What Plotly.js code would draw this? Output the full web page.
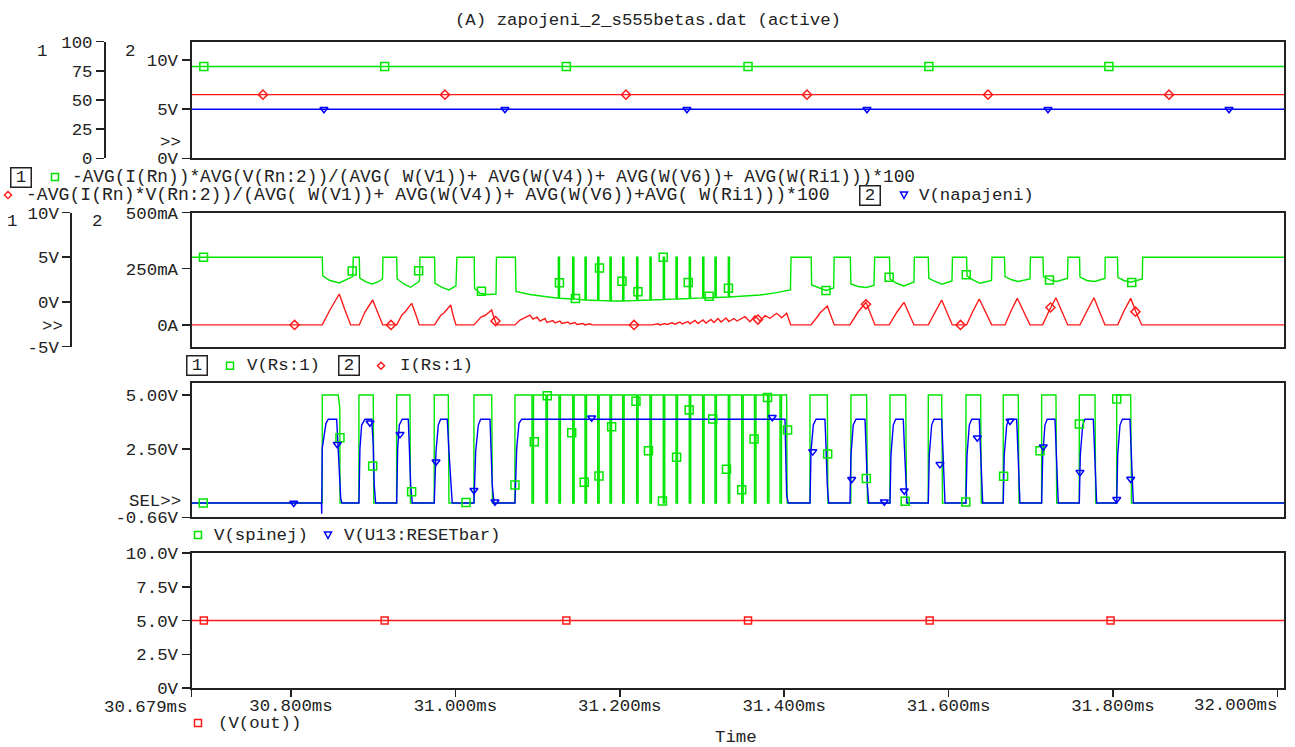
<!DOCTYPE html>
<html><head><meta charset="utf-8">
<script src="https://cdn.plot.ly/plotly-3.0.1.min.js"></script>
<style>html,body{margin:0;padding:0;background:#fff}#plot{width:1295px;height:747px}</style>
</head><body><div id="plot"></div>
<script>
// ---------------- DATA ----------------
const timeTicks = [30.679, 30.8, 31.0, 31.2, 31.4, 31.6, 31.8, 32.0];
const timeTickLabels = ['30.679ms','30.800ms','31.000ms','31.200ms','31.400ms','31.600ms','31.800ms','32.000ms'];
const timeRange = [30.679, 32.008];

// Panel 1 (averages)
const avgTime = [30.679, 32.008];
const effA = [78.7, 78.7];
const effB = [54.6, 54.6];
const napajeni = [5, 5];
const effAMarkT = [30.694, 30.914, 31.135, 31.356, 31.576, 31.795];
const effAMarkV = [78.7, 78.7, 78.7, 78.7, 78.7, 78.7];
const effBMarkT = [30.7659, 30.9873, 31.2075, 31.4277, 31.6479, 31.8681];
const effBMarkV = [54.6, 54.6, 54.6, 54.6, 54.6, 54.6];
const napMarkT = [30.8401, 31.0603, 31.2817, 31.5007, 31.7209, 31.9411];
const napMarkV = [5, 5, 5, 5, 5, 5];
const p1Axis1Ticks = [0, 25, 50, 75, 100];
const p1Axis1Labels = ['0', '25', '50', '75', '100'];
const p1Axis2Ticks = [0, 5, 10];
const p1Axis2Labels = ['0V', '5V', '10V'];

// Panel 2: V(Rs:1) [V] and I(Rs:1) [mA]
const vRsT = [
30.679, 30.8381, 30.8387, 30.8474, 30.8588, 30.8669, 30.8751, 30.8758,
30.8831, 30.8837, 30.8912, 30.8985, 30.9058, 30.9114, 30.9119,
30.9286, 30.9292, 30.9375, 30.9454, 30.9533, 30.9563, 30.9569,
30.9747, 30.9752, 30.9837, 30.9922, 31.0007, 31.0019,
31.0229, 31.0234, 31.0299, 31.0397, 31.0494, 31.0500,
31.0730, 31.0737, 31.0907, 31.1111, 31.1224,
31.1252, 31.1252, 31.1267, 31.1267,
31.1427, 31.1427, 31.1442, 31.1442,
31.1577, 31.1577, 31.1592, 31.1592,
31.1731, 31.1731, 31.1746, 31.1746,
31.1881, 31.1881, 31.1896, 31.1896,
31.2035, 31.2035, 31.2050, 31.2050,
31.2205, 31.2205, 31.2220, 31.2220,
31.2367, 31.2367, 31.2382, 31.2382,
31.2529, 31.2529, 31.2544, 31.2544,
31.2684, 31.2684, 31.2699, 31.2699,
31.2845, 31.2845, 31.2860, 31.2860,
31.3008, 31.3008, 31.3023, 31.3023,
31.3158, 31.3158, 31.3173, 31.3173,
31.3320, 31.3320, 31.3335, 31.3335,
31.3462, 31.3705, 31.3888, 31.4076, 31.4083,
31.4328, 31.4334, 31.4411, 31.4508, 31.4602, 31.4608,
31.4805, 31.4811, 31.4898, 31.4995, 31.5092, 31.5101,
31.5281, 31.5287, 31.5360, 31.5457, 31.5579, 31.5583,
31.5753, 31.5759, 31.5834, 31.5919, 31.6041, 31.6047,
31.6219, 31.6224, 31.6297, 31.6382, 31.6522, 31.6528,
31.6680, 31.6686, 31.6759, 31.6844, 31.6990, 31.6995,
31.7148, 31.7154, 31.7233, 31.7312, 31.7446, 31.7452,
31.7593, 31.7598, 31.7683, 31.7775, 31.7902, 31.7905,
31.8054, 31.8060, 31.8133, 31.8213, 31.8356, 31.8361,
32.008];
const vRsV = [
5, 5, 2.91, 2.40, 2.12, 2.46, 2.83, 5,
5, 2.68, 2.24, 2.01, 2.24, 2.57, 5,
5, 2.57, 2.01, 1.64, 2.12, 2.35, 5,
5, 2.07, 1.62, 1.34, 1.79, 5,
5, 1.51, 0.97, 0.84, 0.89, 5,
5, 1.17, 0.84, 0.59, 0.50,
0.41, 5, 5, 0.41,
0.34, 5, 5, 0.34,
0.22, 5, 5, 0.22,
0.17, 5, 5, 0.17,
0.11, 5, 5, 0.11,
0.11, 5, 5, 0.11,
0.17, 5, 5, 0.17,
0.22, 5, 5, 0.22,
0.28, 5, 5, 0.28,
0.34, 5, 5, 0.34,
0.39, 5, 5, 0.39,
0.45, 5, 5, 0.45,
0.50, 5, 5, 0.50,
0.56, 5, 5, 0.56,
0.61, 0.78, 1.01, 1.34, 5,
5, 1.90, 1.62, 1.29, 1.56, 5,
5, 2.01, 1.73, 1.62, 1.84, 5,
5, 2.57, 2.12, 1.79, 2.24, 5,
5, 2.65, 2.29, 1.98, 2.35, 5,
5, 2.91, 2.46, 2.09, 2.40, 5,
5, 2.83, 2.51, 2.29, 2.57, 5,
5, 2.83, 2.46, 2.29, 2.63, 5,
5, 2.79, 2.40, 2.29, 2.63, 5,
5, 2.72, 2.40, 2.20, 2.57, 5,
5];
const vRsMarkT = [30.6936, 30.8745, 30.9553, 31.0317, 31.1266, 31.1461, 31.1753, 31.2027, 31.2221, 31.2528, 31.2833, 31.3087, 31.3322, 31.4508, 31.5277, 31.6215, 31.7227, 31.8228];
const vRsMarkV = [5, 3.46, 3.5, 1.2, 2.16, 0.39, 3.8, 2.32, 1.15, 5, 2.18, 0.64, 1.53, 1.29, 2.76, 3.05, 2.46, 2.18];

const iRsT = [
30.679, 30.8381, 30.8474, 30.8588, 30.8657, 30.8726,
30.8831, 30.8900, 30.8994, 30.9058, 30.9116,
30.9286, 30.9350, 30.9387, 30.9468, 30.9521, 30.9561,
30.9746, 30.9825, 30.9861, 30.9943, 30.9971, 31.0007,
31.0226, 31.0311, 31.0360, 31.0442, 31.0470, 31.0502,
31.0725, 31.0786, 31.0907, 31.0944, 31.0993, 31.1029, 31.1090, 31.1114, 31.1187, 31.1212, 31.1272, 31.1297, 31.1370, 31.1394, 31.1455, 31.1479, 31.1552, 31.1577, 31.1637, 31.1662,
31.2392, 31.2465, 31.2489, 31.2550, 31.2574, 31.2635, 31.2671, 31.2732, 31.2757, 31.2830, 31.2854, 31.2915, 31.2951, 31.3012, 31.3048, 31.3109, 31.3146, 31.3194, 31.3231, 31.3292, 31.3328, 31.3389, 31.3426,
31.3523, 31.3584, 31.3645, 31.3705, 31.3766, 31.3827, 31.3909, 31.3969, 31.4030, 31.4079,
31.4326, 31.4411, 31.4435, 31.4524, 31.4609,
31.4800, 31.4898, 31.4995, 31.5104,
31.5278, 31.5372, 31.5457, 31.5579,
31.5753, 31.5834, 31.5916, 31.6045,
31.6219, 31.6297, 31.6373, 31.6524,
31.6686, 31.6759, 31.6835, 31.6990,
31.7144, 31.7221, 31.7306, 31.7449,
31.7598, 31.7683, 31.7768, 31.7902,
31.8057, 31.8133, 31.8215, 31.8279, 31.8349,
32.008];
const iRsA = [
0, 0, 66.3, 137.4, 66.3, 0,
0, 57.4, 110.8, 52.9, 0,
0, 44, 57.4, 96.1, 44, 0,
0, 44, 52.9, 88.5, 44, 0,
0, 35.1, 41.8, 66.3, 30.7, 0,
0, 21.8, 44, 26.2, 35.1, 17.3, 28.5, 10.7, 19.6, 8.5, 17.3, 6.2, 12.9, 4, 10.7, 1.8, 6.2, 0, 4.9, 0,
0, 4.9, 0, 6.2, 1.8, 9.3, 3.1, 12.9, 4, 15.1, 4.9, 19.6, 6.2, 21.8, 8.5, 24, 10.7, 28.5, 12.9, 30.7, 15.1, 28.5, 17.3,
36.5, 14.2, 40.9, 17.3, 40.9, 29.4, 51.6, 32, 51.6, 0,
0, 39.6, 52.9, 84.1, 0,
0, 57.4, 100.5, 0,
0, 57.4, 100.5, 0,
0, 57.4, 110.8, 0,
0, 61.8, 115.2, 0,
0, 61.8, 118.3, 0,
0, 61.8, 121, 0,
0, 61.8, 121, 0,
0, 61.8, 118.3, 57.4, 0,
0];
const iRsMarkT = [30.8044, 30.9217, 31.0488, 31.2173, 31.3681, 31.4995, 31.6145, 31.7239, 31.8273];
const iRsMarkA = [0, 0, 17, 0, 24, 91.6, 0, 77.4, 58.7];
const p2Axis1Ticks = [-5, 0, 5, 10];
const p2Axis1Labels = ['-5V', '0V', '5V', '10V'];
const p2Axis2Ticks = [0, 250, 500];
const p2Axis2Labels = ['0A', '250mA', '500mA'];

// Panel 3: V(spinej) and V(U13:RESETbar)
const vSpT = [
30.679, 30.8380, 30.8381, 30.8575, 30.8594, 30.8597,
30.8826, 30.8827, 30.9001, 30.9007,
30.9285, 30.9286, 30.9448, 30.9454,
30.9742, 30.9743, 30.9914, 30.9922,
31.0225, 31.0226, 31.0442, 31.0451,
31.0724, 31.0725,
31.0932, 31.0932, 31.0950, 31.0950,
31.1102, 31.1102, 31.1120, 31.1120,
31.1260, 31.1260, 31.1278, 31.1278,
31.1427, 31.1427, 31.1445, 31.1445,
31.1577, 31.1577, 31.1595, 31.1595,
31.1731, 31.1731, 31.1749, 31.1749,
31.1881, 31.1881, 31.1899, 31.1899,
31.2035, 31.2035, 31.2053, 31.2053,
31.2205, 31.2205, 31.2223, 31.2223,
31.2367, 31.2367, 31.2385, 31.2385,
31.2529, 31.2529, 31.2547, 31.2547,
31.2684, 31.2684, 31.2702, 31.2702,
31.2845, 31.2845, 31.2863, 31.2863,
31.3008, 31.3008, 31.3026, 31.3026,
31.3158, 31.3158, 31.3176, 31.3176,
31.3320, 31.3320, 31.3338, 31.3338,
31.3483, 31.3483, 31.3501, 31.3501,
31.3639, 31.3639, 31.3657, 31.3657,
31.3797, 31.3797, 31.3815, 31.3815,
31.3949, 31.3949, 31.3967, 31.3967,
31.4030, 31.4036,
31.4313, 31.4314, 31.4524, 31.4532,
31.4811, 31.4812, 31.5003, 31.5013,
31.5286, 31.5287, 31.5478, 31.5488,
31.5752, 31.5753, 31.5916, 31.5926,
31.6210, 31.6211, 31.6390, 31.6398,
31.6664, 31.6665, 31.6848, 31.6856,
31.7131, 31.7132, 31.7306, 31.7315,
31.7589, 31.7590, 31.7781, 31.7789,
31.8044, 31.8045, 31.8215, 31.8225,
32.008];
const vSpV = [
0, 0, 5, 5, 4.4, 0,
0, 5, 5, 0,
0, 5, 5, 0,
0, 5, 5, 0,
0, 5, 5, 0,
0, 5,
5, 0, 0, 5,
5, 0, 0, 5,
5, 0, 0, 5,
5, 0, 0, 5,
5, 0, 0, 5,
5, 0, 0, 5,
5, 0, 0, 5,
5, 0, 0, 5,
5, 0, 0, 5,
5, 0, 0, 5,
5, 0, 0, 5,
5, 0, 0, 5,
5, 0, 0, 5,
5, 0, 0, 5,
5, 0, 0, 5,
5, 0, 0, 5,
5, 0, 0, 5,
5, 0, 0, 5,
5, 0, 0, 5,
5, 0, 0, 5,
5, 0,
0, 5, 5, 0,
0, 5, 5, 0,
0, 5, 5, 0,
0, 5, 5, 0,
0, 5, 5, 0,
0, 5, 5, 0,
0, 5, 5, 0,
0, 5, 5, 0,
0, 5, 5, 0,
0];
const vSpMarkT = [30.6933, 30.8596, 30.8994, 30.9468, 31.0129, 31.0725, 31.0960, 31.1118, 31.1415, 31.1568, 31.1747, 31.1901, 31.2197, 31.2349, 31.2519, 31.2691, 31.2844, 31.3131, 31.3298, 31.3483, 31.3634, 31.3797, 31.4041, 31.4529, 31.4999, 31.5472, 31.6209, 31.6669, 31.7112, 31.7591, 31.8045];
const vSpMarkV = [0, 3.02, 1.71, 0.52, 0.03, 0.83, 2.84, 4.97, 3.25, 0.96, 1.25, 3.53, 4.71, 2.42, 0.1, 2.12, 4.31, 3.89, 1.56, 0.62, 2.96, 4.89, 3.38, 2.27, 1.14, 0.08, 0.05, 1.24, 2.42, 3.66, 4.81];

const vRbT = [
30.679, 30.8371, 30.8374, 30.8380, 30.8426, 30.8454, 30.8556, 30.8568, 30.8588, 30.8605, 30.8620,
30.8827, 30.8839, 30.8860, 30.8900, 30.8982, 30.9001, 30.9013, 30.9030,
30.9286, 30.9298, 30.9318, 30.9354, 30.9427, 30.9439, 30.9456, 30.9476,
30.9743, 30.9764, 30.9792, 30.9821, 30.9901, 30.9922, 30.9943, 30.9962,
31.0226, 31.0247, 31.0279, 31.0308, 31.0421, 31.0433, 31.0449, 31.0470,
31.0725, 31.0746, 31.0774, 31.0807, 31.4010, 31.4018, 31.4030, 31.4050,
31.4314, 31.4326, 31.4354, 31.4387, 31.4496, 31.4508, 31.4524, 31.4541,
31.4800, 31.4812, 31.4840, 31.4873, 31.4983, 31.4995, 31.5011, 31.5028,
31.5287, 31.5299, 31.5327, 31.5356, 31.5449, 31.5461, 31.5478, 31.5494,
31.5753, 31.5765, 31.5794, 31.5822, 31.5916, 31.5928, 31.5940, 31.5956,
31.6211, 31.6224, 31.6252, 31.6281, 31.6373, 31.6385, 31.6398, 31.6415,
31.6665, 31.6677, 31.6707, 31.6735, 31.6828, 31.6840, 31.6852, 31.6868,
31.7132, 31.7145, 31.7172, 31.7200, 31.7294, 31.7306, 31.7318, 31.7334,
31.7590, 31.7602, 31.7631, 31.7659, 31.7760, 31.7772, 31.7784, 31.7801,
31.8045, 31.8057, 31.8085, 31.8113, 31.8206, 31.8219, 31.8231, 31.8247,
32.008];
const vRbV = [
0, 0, -0.5, 2.53, 3.69, 3.88, 3.88, 2.84, 1.45, 0.22, 0,
0, 2.53, 3.61, 3.88, 3.88, 2.69, 0.83, 0,
0, 2.53, 3.61, 3.88, 3.88, 2.69, 0.83, 0,
0, 2.38, 3.61, 3.88, 3.88, 2.38, 0.83, 0,
0, 2.38, 3.61, 3.88, 3.88, 2.69, 0.83, 0,
0, 2.53, 3.69, 3.88, 3.88, 2.38, 0.37, 0,
0, 2.38, 3.61, 3.88, 3.88, 2.69, 0.83, 0,
0, 2.22, 3.61, 3.88, 3.88, 2.69, 0.83, 0,
0, 2.22, 3.61, 3.88, 3.88, 2.69, 0.83, 0,
0, 2.22, 3.61, 3.88, 3.88, 2.69, 0.83, 0,
0, 2.22, 3.61, 3.88, 3.88, 2.69, 0.83, 0,
0, 2.22, 3.61, 3.88, 3.88, 2.69, 0.83, 0,
0, 2.22, 3.61, 3.88, 3.88, 2.69, 0.83, 0,
0, 2.22, 3.61, 3.88, 3.88, 2.69, 0.83, 0,
0, 2.22, 3.61, 3.88, 3.88, 2.69, 0.83, 0,
0];
const vRbMarkT = [30.8034, 30.8563, 30.8961, 30.9326, 30.9764, 31.0226, 31.0482, 31.1658, 31.3855, 31.4347, 31.4821, 31.5218, 31.5461, 31.5895, 31.6349, 31.6747, 31.7152, 31.7598, 31.8045, 31.8215];
const vRbMarkV = [0, 2.72, 3.72, 3.18, 1.91, 0.59, 0.06, 3.95, 3.97, 2.38, 1.10, 0.06, 0.57, 1.79, 3.02, 3.80, 2.61, 1.42, 0.17, 1.11];
const p3Ticks = [-0.66, 2.5, 5.0];
const p3Labels = ['-0.66V', '2.50V', '5.00V'];

// Panel 4: V(out)
const voutT = [30.679, 32.008];
const voutV = [5, 5];
const voutMarkT = [30.694, 30.914, 31.135, 31.356, 31.577, 31.797];
const voutMarkV = [5, 5, 5, 5, 5, 5];
const p4Ticks = [0, 2.5, 5, 7.5, 10];
const p4Labels = ['0V', '2.5V', '5.0V', '7.5V', '10.0V'];

// ---------------- LAYOUT ----------------
const W = 1295, H = 747;
const fx = x => x / W;
const fy = y => 1 - y / H;
const FONT = 'Liberation Mono, Courier New, monospace';
const TXT = '#222';
const GREEN = '#00e600', RED = '#ff1a1a', BLUE = '#0000ff';
const LC = '#222';

const xDom = [fx(191.5), fx(1284)];
function xax(extra) {
  return Object.assign({domain: xDom, range: timeRange, showline: true, mirror: true, linecolor: LC, linewidth: 2,
    showgrid: false, zeroline: false, ticks: '', showticklabels: false, fixedrange: true}, extra || {});
}
function yax(extra) {
  return Object.assign({showline: true, linecolor: LC, linewidth: 2, showgrid: false, zeroline: false,
    ticks: 'outside', ticklen: 8, tickwidth: 1.5, tickcolor: LC, tickmode: 'array', fixedrange: true,
    tickfont: {family: FONT, size: 17.4, color: TXT}}, extra || {});
}

const bottomTickText = timeTickLabels.map((s, i) => (i === 0 || i === timeTickLabels.length - 1) ? '' : s);

const layout = {
  width: W, height: H, margin: {l: 0, r: 0, t: 0, b: 0},
  paper_bgcolor: '#fff', plot_bgcolor: '#fff', showlegend: false, hovermode: false,
  font: {family: FONT, size: 17.4, color: TXT},
  title: {text: '(A) zapojeni_2_s555betas.dat (active)', x: fx(648), xanchor: 'center', y: fy(19), yanchor: 'middle',
    font: {family: FONT, size: 17.4, color: TXT}},
  // panel 4 (bottom)
  xaxis: xax({anchor: 'y', ticks: 'outside', ticklen: 7, tickwidth: 1.5, tickcolor: LC, showticklabels: true,
    ticklabelstandoff: -7,
    tickmode: 'array', tickvals: timeTicks, ticktext: bottomTickText, tickfont: {family: FONT, size: 17.4, color: TXT}}),
  yaxis: yax({domain: [fy(688), fy(553)], range: [0, 10], mirror: true, anchor: 'x', tickvals: p4Ticks, ticktext: p4Labels}),
  // panel 3
  xaxis2: xax({anchor: 'y2'}),
  yaxis2: yax({domain: [fy(517.3), fy(382.7)], range: [-0.66, 5.57], mirror: true, anchor: 'x2', tickvals: p3Ticks, ticktext: p3Labels}),
  // panel 2
  xaxis3: xax({anchor: 'y3'}),
  yaxis3: yax({domain: [fy(346.7), fy(212.5)], range: [-96.9, 500], mirror: true, anchor: 'x3', tickvals: p2Axis2Ticks, ticktext: p2Axis2Labels}),
  yaxis4: yax({overlaying: 'y3', anchor: 'free', position: fx(71.4), side: 'left', range: [-5, 10], tickvals: p2Axis1Ticks, ticktext: p2Axis1Labels}),
  // panel 1
  xaxis4: xax({anchor: 'y5'}),
  yaxis5: yax({domain: [fy(158.3), fy(41.7)], range: [0, 11.87], mirror: true, anchor: 'x4', tickvals: p1Axis2Ticks, ticktext: p1Axis2Labels}),
  yaxis6: yax({overlaying: 'y5', anchor: 'free', position: fx(105), side: 'left', range: [0, 100], tickvals: p1Axis1Ticks, ticktext: p1Axis1Labels}),
  annotations: [], shapes: []
};

function note(text, x, y, xanchor, extra) {
  layout.annotations.push(Object.assign({text: text, xref: 'paper', yref: 'paper', x: fx(x), y: fy(y),
    xanchor: xanchor || 'center', yanchor: 'middle', showarrow: false,
    font: {family: FONT, size: 17.4, color: TXT}}, extra || {}));
}
function boxNum(text, x, y) {
  note(text, x, y, 'center', {bordercolor: LC, borderwidth: 1.5, borderpad: 0, width: 19, height: 18});
}
function sq(x, y, c) {
  layout.shapes.push({type: 'rect', xref: 'paper', yref: 'paper', x0: fx(x - 3.5), x1: fx(x + 3.5), y0: fy(y + 3.5), y1: fy(y - 3.5), line: {color: c, width: 1.5}});
}
function dia(x, y, c) {
  layout.shapes.push({type: 'path', xref: 'paper', yref: 'paper',
    path: `M ${fx(x)},${fy(y - 3.5)} L ${fx(x + 3.5)},${fy(y)} L ${fx(x)},${fy(y + 3.5)} L ${fx(x - 3.5)},${fy(y)} Z`, line: {color: c, width: 1.5}});
}
function tri(x, y, c) {
  layout.shapes.push({type: 'path', xref: 'paper', yref: 'paper',
    path: `M ${fx(x - 3.5)},${fy(y - 3)} L ${fx(x + 3.5)},${fy(y - 3)} L ${fx(x)},${fy(y + 3.5)} Z`, line: {color: c, width: 1.5}});
}

// axis numbers & markers
note('1', 41.7, 51.7); note('2', 130, 51.7); note('>>', 183, 143, 'right');
note('1', 11.6, 221.7); note('2', 96.7, 221.7); note('>>', 64.5, 326, 'right');
note('SEL>>', 183, 501.7, 'right');
// legends
boxNum('1', 21, 177); sq(55, 177, GREEN);
note('-AVG(I(Rn))*AVG(V(Rn:2))/(AVG( W(V1))+ AVG(W(V4))+ AVG(W(V6))+ AVG(W(Ri1)))*100', 70, 177, 'left',
  {font: {family: FONT, size: 17.8, color: TXT}});
dia(8, 195, RED);
note('-AVG(I(Rn)*V(Rn:2))/(AVG( W(V1))+ AVG(W(V4))+ AVG(W(V6))+AVG( W(Ri1)))*100', 24, 195, 'left',
  {font: {family: FONT, size: 18.1, color: TXT}});
boxNum('2', 870, 195); tri(904, 195, BLUE); note('V(napajeni)', 917, 195, 'left');
boxNum('1', 197, 365.7); sq(230, 365.7, GREEN); note('V(Rs:1)', 245, 365.7, 'left');
boxNum('2', 348.5, 365.7); dia(381, 365.7, RED); note('I(Rs:1)', 398, 365.7, 'left');
sq(198, 535, GREEN); note('V(spinej)', 211.6, 535, 'left');
tri(328, 535, BLUE); note('V(U13:RESETbar)', 342, 535, 'left');
sq(198, 723, RED); note('(V(out))', 215.8, 723.5, 'left');
note('Time', 736, 737.5);
// end tick labels of the time axis
layout.annotations.push({text: timeTickLabels[0], xref: 'x', yref: 'paper', x: timeTicks[0], y: fy(707), xanchor: 'right', yanchor: 'middle', xshift: -2, showarrow: false, font: {family: FONT, size: 17.4, color: TXT}});
layout.annotations.push({text: timeTickLabels[timeTickLabels.length - 1], xref: 'x', yref: 'paper', x: timeTicks[timeTicks.length - 1], y: fy(705.7), xanchor: 'right', yanchor: 'middle', xshift: 3, showarrow: false, font: {family: FONT, size: 17.4, color: TXT}});

// ---------------- TRACES ----------------
const LW = 1.4;
function line(x, y, xa, ya, c) { return {type: 'scatter', mode: 'lines', x: x, y: y, xaxis: xa, yaxis: ya, line: {color: c, width: LW}, cliponaxis: true}; }
function marks(x, y, xa, ya, c, sym, size) { return {type: 'scatter', mode: 'markers', x: x, y: y, xaxis: xa, yaxis: ya, marker: {symbol: sym, size: size, color: c, line: {color: c, width: 1.5}}, cliponaxis: false}; }

const data = [
  // panel 1
  line(avgTime, effA, 'x4', 'y6', GREEN), marks(effAMarkT, effAMarkV, 'x4', 'y6', GREEN, 'square-open', 8),
  line(avgTime, effB, 'x4', 'y6', RED), marks(effBMarkT, effBMarkV, 'x4', 'y6', RED, 'diamond-open', 7),
  line(avgTime, napajeni, 'x4', 'y5', BLUE), marks(napMarkT, napMarkV, 'x4', 'y5', BLUE, 'triangle-down-open', 7),
  // panel 2
  line(iRsT, iRsA, 'x3', 'y3', RED), marks(iRsMarkT, iRsMarkA, 'x3', 'y3', RED, 'diamond-open', 7),
  line(vRsT, vRsV, 'x3', 'y4', GREEN), marks(vRsMarkT, vRsMarkV, 'x3', 'y4', GREEN, 'square-open', 8),
  // panel 3
  line(vSpT, vSpV, 'x2', 'y2', GREEN),
  line(vRbT, vRbV, 'x2', 'y2', BLUE),
  marks(vSpMarkT, vSpMarkV, 'x2', 'y2', GREEN, 'square-open', 8),
  marks(vRbMarkT, vRbMarkV, 'x2', 'y2', BLUE, 'triangle-down-open', 7),
  // panel 4
  line(voutT, voutV, 'x', 'y', RED), marks(voutMarkT, voutMarkV, 'x', 'y', RED, 'square-open', 7)
];

Plotly.newPlot('plot', data, layout, {staticPlot: true, displayModeBar: false});
</script>
</body></html>
